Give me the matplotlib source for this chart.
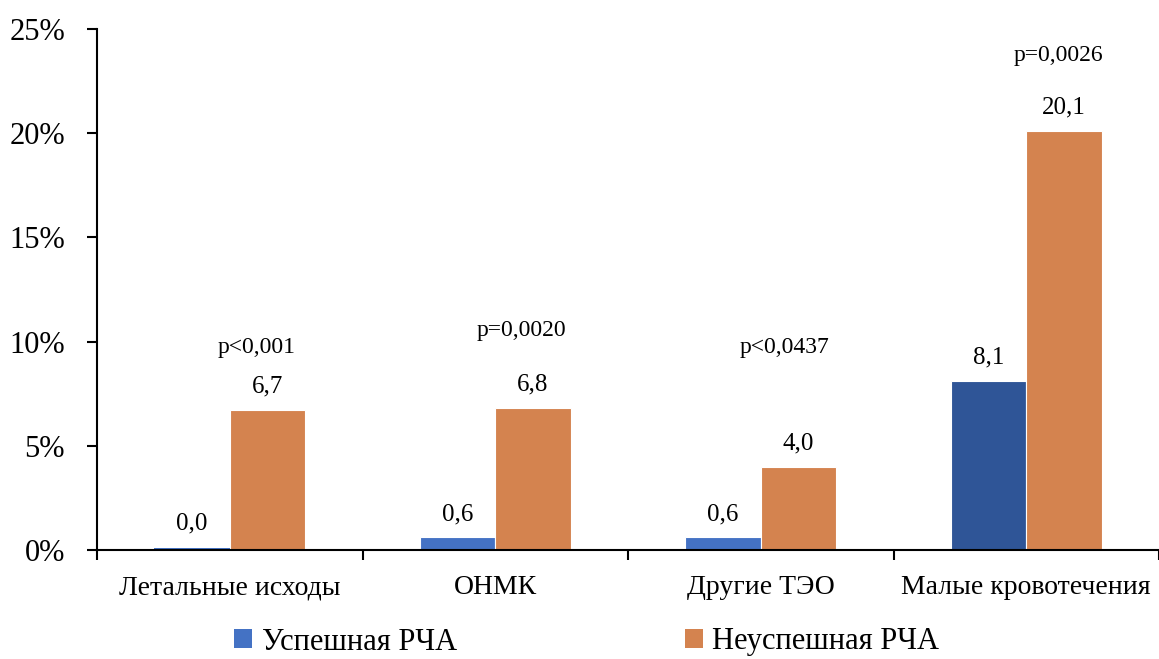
import matplotlib
matplotlib.use("Agg")
import matplotlib.pyplot as plt
import numpy as np
from matplotlib.patches import Patch
from matplotlib.ticker import FuncFormatter, FixedLocator

plt.rcParams['font.family'] = ['Liberation Serif', 'DejaVu Serif']

categories = ["Летальные исходы", "ОНМК", "Другие ТЭО", "Малые кровотечения"]
success = [0.0, 0.6, 0.6, 8.1]
failure = [6.7, 6.8, 4.0, 20.1]
p_values = ["p<0,001", "p=0,0020", "p<0,0437", "p=0,0026"]
series_names = ["Успешная РЧА", "Неуспешная РЧА"]

blue = "#4472C4"
blue_dark = "#2F5597"
orange = "#D4834F"
success_colors = [blue, blue, blue, blue_dark]

# where each p-value note sits (data coords)
p_pos = [(0.60, 9.7), (1.60, 10.55), (2.59, 9.7), (3.62, 23.75)]

fig = plt.figure(figsize=(11.59, 6.59), dpi=100)
ax = fig.add_axes([97 / 1159, 109 / 659, 1 - 97 / 1159, 521 / 659])

x = np.arange(len(categories)) + 0.5
w = 0.284

b1 = ax.bar(x - w / 2, success, w, color=success_colors, edgecolor="white", linewidth=0.8)
b2 = ax.bar(x + w / 2, failure, w, color=orange, edgecolor="white", linewidth=0.8)
# zero-height bar still shows as a thin line
ax.bar(x[0] - w / 2, 0.08, w, color=blue, linewidth=0)


def fmt(v):
    return f"{v:.1f}".replace(".", ",")


for bars, vals in ((b1, success), (b2, failure)):
    for rect, v in zip(bars, vals):
        off = 11 if v == 0 else 9
        ax.annotate(fmt(v), (rect.get_x() + rect.get_width() / 2, v),
                    xytext=(0, off), textcoords="offset points",
                    ha="center", va="bottom", fontsize=18)

for txt, (px, py) in zip(p_values, p_pos):
    ax.text(px, py, txt, ha="center", va="center", fontsize=17)

ax.set_xlim(0, 4)
ax.set_ylim(0, 25)
ax.yaxis.set_major_locator(FixedLocator([0, 5, 10, 15, 20, 25]))
ax.yaxis.set_major_formatter(FuncFormatter(lambda v, _: f"{int(v)}%"))
ax.tick_params(axis="y", labelsize=22, length=7, width=1.5, pad=16, direction="out")

ax.set_xticks(x)
ax.set_xticklabels(categories, fontsize=20)
ax.set_xticks(np.arange(0, 5), minor=True)
ax.tick_params(axis="x", which="major", length=0, pad=18)
ax.tick_params(axis="x", which="minor", length=7, width=1.5, direction="out")

for s in ("top", "right"):
    ax.spines[s].set_visible(False)
for s in ("left", "bottom"):
    ax.spines[s].set_linewidth(1.5)

# two legend entries placed apart at the bottom
for name, col, lx in ((series_names[0], blue, 234 / 1159), (series_names[1], orange, 685 / 1159)):
    fig.legend(handles=[Patch(facecolor=col, label=name)], loc="center left",
               bbox_to_anchor=(lx, 17 / 659), frameon=False, fontsize=22,
               borderpad=0, borderaxespad=0, handlelength=0.6, handleheight=0.6,
               handletextpad=0.3)

fig.savefig("out.png", dpi=100)
